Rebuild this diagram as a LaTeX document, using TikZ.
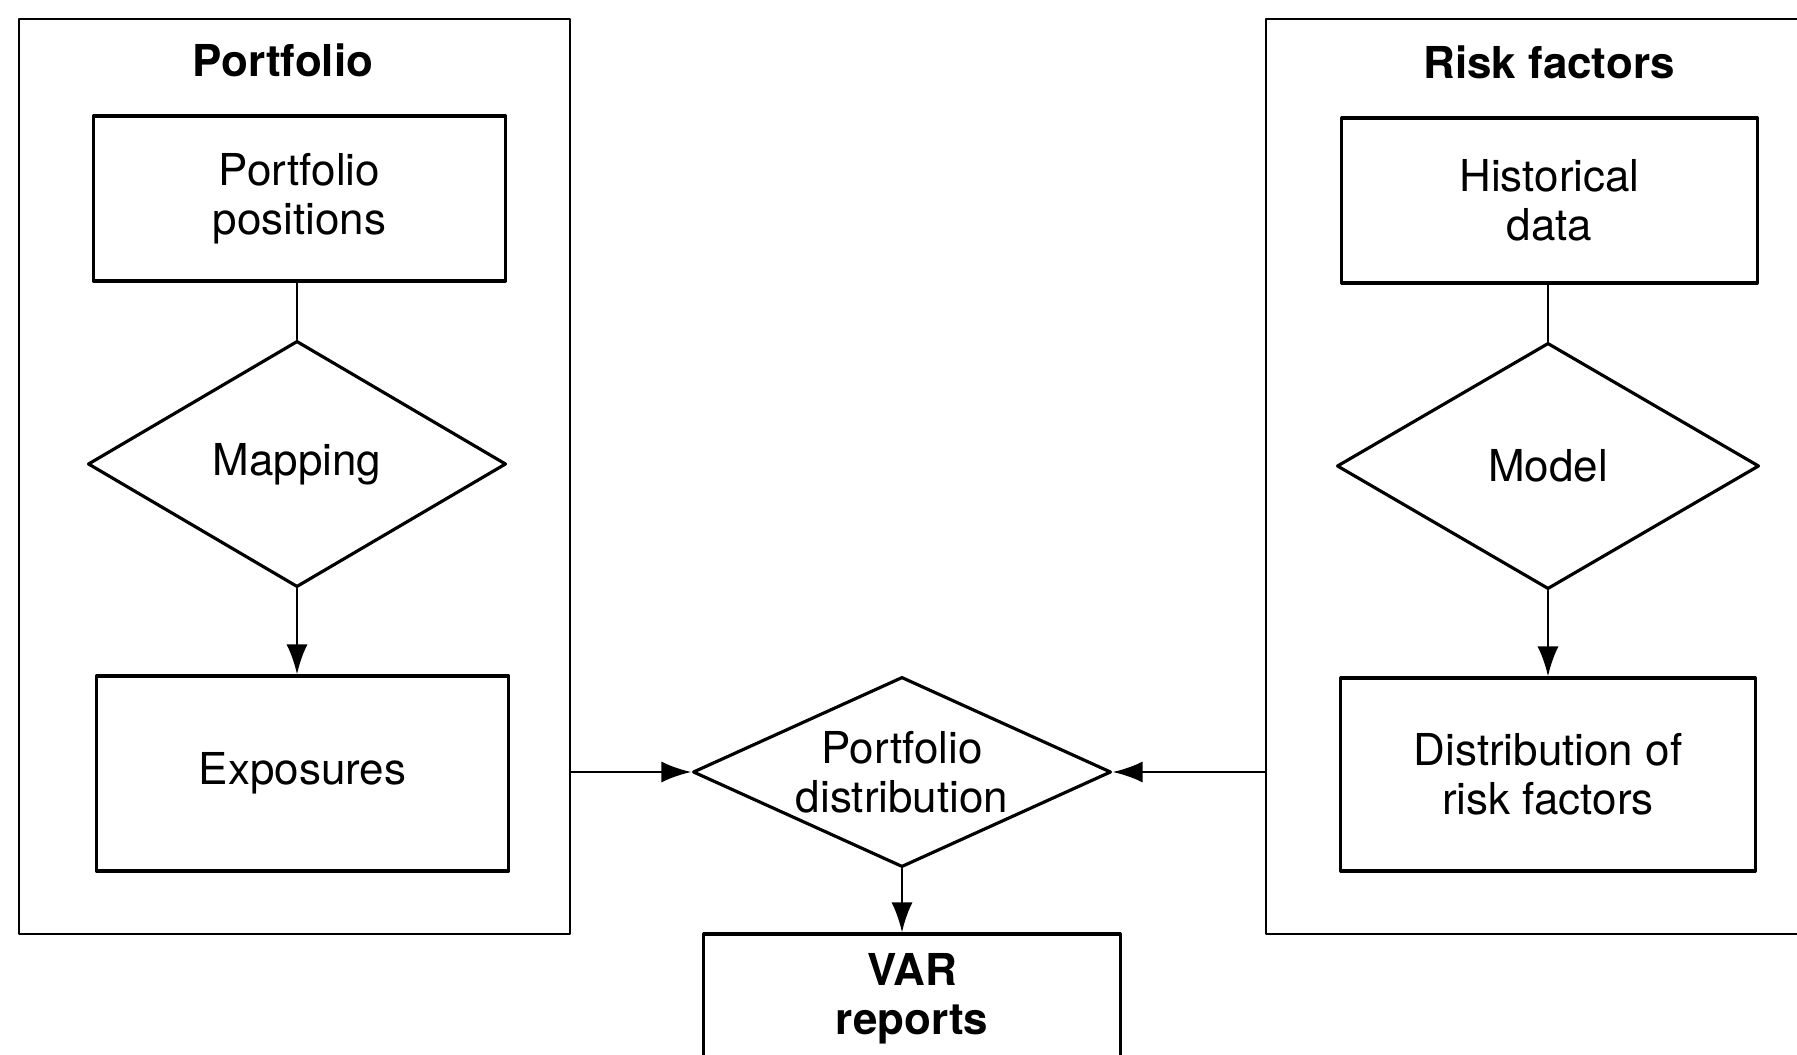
\documentclass[tikz,border=0pt]{standalone}
\usepackage{fontspec}
\setmainfont{TeX Gyre Heros}
\usetikzlibrary{shapes.geometric,arrows.meta}
\begin{document}
\begin{tikzpicture}[x=0.01cm,y=-0.01cm,font=\fontsize{12.5}{14}\selectfont,line join=round,line cap=round,
		>={Latex[length=8.5pt,width=6pt]},line width=0.8pt,
		frame/.style={draw,line width=0.7pt,inner sep=0pt},
		box/.style={draw,line width=0.9pt,minimum width=4.12cm,align=center,inner sep=0pt},
		decision/.style={draw,diamond,line width=0.9pt,inner sep=0pt,minimum width=4.18cm,minimum height=2.46cm},
		title/.style={font=\fontsize{12.5}{14}\selectfont\bfseries,align=center}]
		\useasboundingbox (0,0) rectangle (1797,1055);
		\clip (0,0) rectangle (1797,1055);
		% portfolio side
		\node[frame,minimum width=5.505cm,minimum height=9.145cm] (lframe) at (294.5,476.7) {};
		\node[title] (ltitle) at (283,60) {Portfolio};
		\node[box,minimum height=1.65cm] (pos) at (299.5,198.5) {Portfolio\\positions};
		\node[decision] (map) at (297,464) {Mapping};
		\node[box,minimum height=1.95cm] (expo) at (302.5,773.5) {Exposures};
		% risk factor side (runs off the page)
		\node[frame,minimum width=5.9cm,minimum height=9.145cm] (rframe) at (1561,476.7) {};
		\node[title] (rtitle) at (1549,62) {Risk factors};
		\node[box,minimum width=4.15cm,minimum height=1.65cm] (hist) at (1549.5,200.5) {Historical\\data};
		\node[decision,minimum width=4.22cm] (model) at (1548,466) {Model};
		\node[box,minimum width=4.14cm,minimum height=1.93cm] (dist) at (1548,774.5) {Distribution of\\risk factors};
		% middle
		\node[decision,minimum height=1.9cm,label={[align=center]center:Portfolio\\distribution}] (pdist) at (902,772) {};
		\node[box,title,minimum width=4.16cm,minimum height=1.3cm] (var) at (912,999) {VAR\\reports};
		% connectors
		\draw (map.north |- pos.south) -- (map.north);
		\draw[->] (map.south) -- (map.south |- expo.north);
		\draw (model.north |- hist.south) -- (model.north);
		\draw[->] (model.south) -- (model.south |- dist.north);
		\draw[->] (lframe.east |- pdist.west) -- (pdist.west);
		\draw[->] (rframe.west |- pdist.east) -- (pdist.east);
		\draw[->] (pdist.south) -- (pdist.south |- var.north);
	\end{tikzpicture}
\end{document}
